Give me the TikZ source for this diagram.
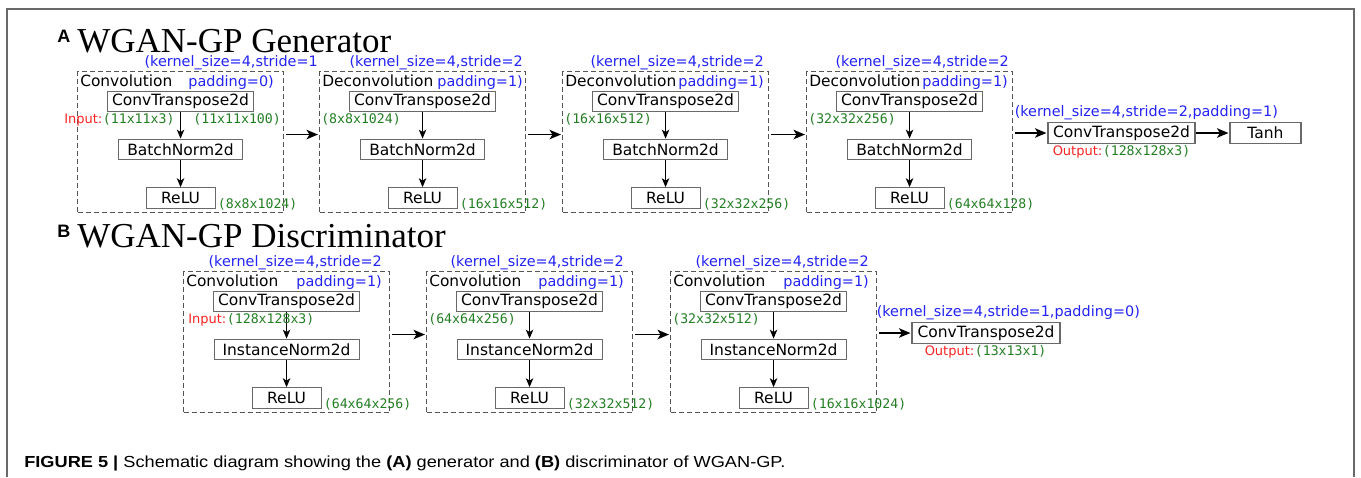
\documentclass[tikz,border=0pt]{standalone}
\usepackage{fontspec}
\usepackage{graphicx}
\usetikzlibrary{arrows.meta,positioning}
\newfontfamily\labelfont{DejaVu Sans}
\newfontfamily\dimfont{DejaVu Sans Mono}
\newfontfamily\titlefont{Liberation Serif}
\newfontfamily\capfont{Liberation Sans}
\definecolor{kblue}{RGB}{35,35,245}
\definecolor{dgreen}{RGB}{35,125,35}
\definecolor{ired}{RGB}{250,35,35}
\definecolor{boxgray}{RGB}{105,105,105}
\definecolor{dashgray}{RGB}{85,85,85}

\begin{document}
\begin{tikzpicture}[x=1pt,y=-1pt,>={Stealth[length=11.5pt,width=9.5pt,inset=3pt]},semithick]
            \tikzstyle{block}=[draw=dashgray,line width=1.1pt,dash pattern=on 5pt off 3pt,minimum width=206pt,minimum height=141pt,inner sep=0pt]
            \tikzstyle{layer}=[draw=boxgray,line width=1.1pt,minimum height=20.5pt,inner sep=1pt,font=\labelfont\fontsize{15.5}{18}\selectfont]
            \tikzstyle{plain}=[inner sep=0pt,font=\labelfont\fontsize{15.4}{18}\selectfont]
            \tikzstyle{kern}=[inner sep=0pt,text=kblue,font=\labelfont\fontsize{14.4}{17}\selectfont]
            \tikzstyle{dims}=[inner sep=0pt,text=dgreen,font=\dimfont\fontsize{13.2}{15}\selectfont]
            \tikzstyle{io}=[inner sep=0pt,text=ired,font=\labelfont\fontsize{13}{15}\selectfont]
            \tikzstyle{head}=[anchor=base west,inner sep=0pt,text depth=0pt]
            \tikzstyle{flow}=[->,line width=1.6pt,shorten <=2pt,shorten >=1pt]
            \tikzstyle{inarrow}=[-{Stealth[length=9pt,width=7.5pt,inset=2.5pt]},line width=1.1pt]
            \useasboundingbox (0,0) rectangle (1361,477);
            % outer frame, open at the bottom
            \draw[boxgray,line width=1.5pt] (7,477) -- (7,9) -- (1354,9) -- (1354,477);

            \node[head,font=\capfont\bfseries\fontsize{18}{20}\selectfont] (alabel) at (57,42) {A};
            \node[head,font=\titlefont\fontsize{35}{40}\selectfont] (gtitle) at (77,52) {WGAN-GP Generator};
            \node[head,font=\capfont\bfseries\fontsize{18}{20}\selectfont] (blabel) at (57,237) {B};
            \node[head,font=\titlefont\fontsize{35}{40}\selectfont] (dtitle) at (77,247) {WGAN-GP Discriminator};

            % one dashed block per conv stage
            \foreach \n/\x/\y/\kind/\norm/\nw/\s/\p/\pr/\kr/\din/\dout in {
                g1/77/71/Convolution/BatchNorm2d/124pt/1/0/-10pt/34pt//(8x8x1024),
                g2/319/71/Deconvolution/BatchNorm2d/124pt/2/1/-3pt/-3pt/(8x8x1024)/(16x16x512),
                g3/562/71/Deconvolution/BatchNorm2d/124pt/2/1/-5pt/-5pt/(16x16x512)/(32x32x256),
                g4/806/71/Deconvolution/BatchNorm2d/124pt/2/1/-5pt/-4pt/(32x32x256)/(64x64x128),
                d1/183/271/Convolution/InstanceNorm2d/145pt/2/1/-8pt/-8pt//(64x64x256),
                d2/426/271/Convolution/InstanceNorm2d/145pt/2/1/-9pt/-9pt/(64x64x256)/(32x32x512),
                d3/670/271/Convolution/InstanceNorm2d/145pt/2/1/-8pt/-8pt/(32x32x512)/(16x16x1024)} {
                \node[block,anchor=north west] (\n) at (\x,\y) {};
                \node[plain,anchor=base west] (kind\n) at ([xshift=3pt,yshift=-15.5pt]\n.north west) {\kind};
                \node[kern,anchor=base east] (pad\n) at ([xshift=\pr,yshift=-15.5pt]\n.north east) {padding=\p)};
                \node[kern,anchor=base east] (kern\n) at ([xshift=\kr,yshift=4.5pt]\n.north east) {(kernel\_size=4,stride=\s};
                \node[layer,minimum width=146pt,below=19.5pt of \n.north] (conv\n) {ConvTranspose2d};
                \node[layer,minimum width=\nw,below=26.5pt of conv\n] (norm\n) {\norm};
                \node[layer,minimum width=69pt,below=27pt of norm\n] (relu\n) {ReLU};
                \node[dims,anchor=base west] (in\n) at ([xshift=2pt,yshift=-52pt]\n.north west) {\din};
                \node[dims,anchor=base west] (out\n) at ([xshift=2pt]relu\n.south east) {\dout};
                \draw[inarrow] (conv\n) -- (norm\n);
                \draw[inarrow] (norm\n) -- (relu\n);
            }

            % network inputs
            \node[io,anchor=base west] (ing) at ([xshift=-13pt,yshift=-52pt]g1.north west) {Input:};
            \node[dims,anchor=base west] (ingdim) at (ing.base east) {(11x11x3)};
            \node[dims,anchor=base east] (ingz) at ([xshift=-3pt,yshift=-52pt]g1.north east) {(11x11x100)};
            \node[io,anchor=base west] (ind) at ([xshift=5pt,yshift=-52pt]d1.north west) {Input:};
            \node[dims,anchor=base west] (inddim) at (ind.base east) {(128x128x3)};

            % last layers
            \node[layer,minimum width=147pt] (convgo) at (1121.5,133) {ConvTranspose2d};
            \node[layer,minimum width=71pt] (tanh) at (1265.5,133) {Tanh};
            \node[kern,anchor=base west] (kerngo) at ([xshift=-33pt,yshift=5.5pt]convgo.north west) {(kernel\_size=4,stride=2,padding=1)};
            \node[io,anchor=base west] (outg) at ([xshift=5pt,yshift=-11.5pt]convgo.south west) {Output:};
            \node[dims,anchor=base west] (outgdim) at (outg.base east) {(128x128x3)};
            \node[layer,minimum width=148pt] (convdo) at (986,333) {ConvTranspose2d};
            \node[kern,anchor=base west] (kerndo) at ([xshift=-35pt,yshift=5.5pt]convdo.north west) {(kernel\_size=4,stride=1,padding=0)};
            \node[io,anchor=base west] (outd) at ([xshift=13pt,yshift=-11.5pt]convdo.south west) {Output:};
            \node[dims,anchor=base west] (outddim) at (outd.base east) {(13x13x1)};

            \foreach \a/\b in {g1/g2,g2/g3,g3/g4,d1/d2,d2/d3}
                \draw[flow] ([yshift=7.5pt]\a.east) -- ([yshift=7.5pt]\b.west);
            \draw[flow] (g4.east |- convgo.west) -- (convgo.west);
            \draw[flow,shorten <=0pt] (convgo) -- (tanh);
            \draw[flow] (d3.east |- convdo.west) -- (convdo.west);

            \node[anchor=base west,inner sep=0pt,font=\capfont\fontsize{16}{18}\selectfont] (caption) at (24,467)
                {\resizebox{761pt}{\height}{\textbf{FIGURE 5 |} Schematic diagram showing the \textbf{(A)} generator and \textbf{(B)} discriminator of WGAN-GP.}};
        \end{tikzpicture}
\end{document}
